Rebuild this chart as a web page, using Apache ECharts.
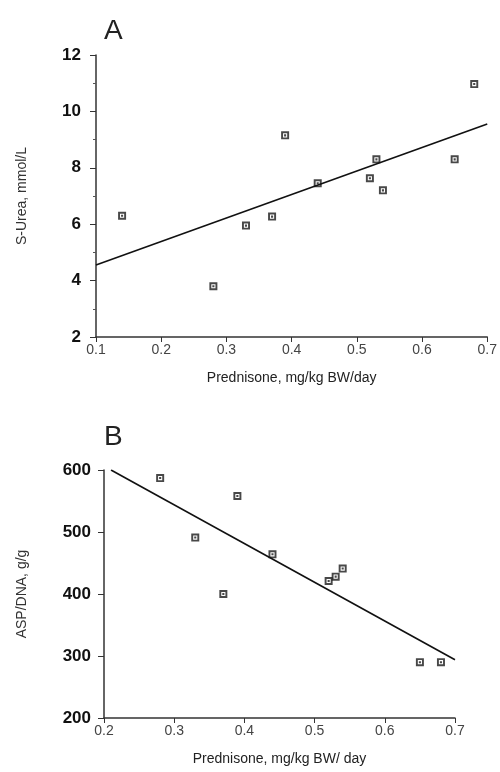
<!DOCTYPE html>
<html>
<head>
<meta charset="utf-8">
<script src="https://cdn.jsdelivr.net/npm/echarts@6/dist/echarts.min.js"></script>
<style>
html,body{margin:0;padding:0;background:#fff;}
#chart{width:500px;height:772px;}
</style>
</head>
<body>
<div id="chart"></div>
<script>
// Panel A: S-Urea vs Prednisone
const prednisoneA = [0.14, 0.28, 0.33, 0.37, 0.39, 0.44, 0.52, 0.53, 0.54, 0.65, 0.68];
const sUrea = [6.3, 3.8, 5.95, 6.27, 9.15, 7.45, 7.63, 8.3, 7.2, 8.3, 10.97];
const fitA = [[0.1, 4.55], [0.7, 9.55]];
// Panel B: ASP/DNA vs Prednisone
const prednisoneB = [0.28, 0.33, 0.37, 0.39, 0.44, 0.52, 0.53, 0.54, 0.65, 0.68];
const aspDna = [587, 491, 400, 558, 464, 421, 428, 441, 290, 290];
const fitB = [[0.21, 600], [0.7, 294]];

const titles = ['A', 'B'];
const xName = ['Prednisone, mg/kg BW/day', 'Prednisone, mg/kg BW/ day'];
const yName = ['S-Urea, mmol/L', 'ASP/DNA, g/g'];

const font = '"Liberation Sans", Arial, Helvetica, sans-serif';
const sym = 'path://M0,0H10V10H0Z M2.4,2.4V7.6H7.6V2.4Z M3.7,3.7H6.3V6.3H3.7Z';

function xAxis(idx, min) {
  return {
    type: 'value', gridIndex: idx, min: min, max: 0.7, interval: 0.1,
    name: xName[idx], nameLocation: 'middle', nameGap: 34,
    nameTextStyle: {fontFamily: font, fontSize: 14, color: '#222'},
    axisLine: {show: true, onZero: false, lineStyle: {color: '#333', width: 1.5}},
    axisTick: {show: true, length: 5, lineStyle: {color: '#333'}},
    axisLabel: {fontFamily: font, fontSize: 14, color: '#444', margin: 6,
      formatter: v => v.toFixed(1)},
    splitLine: {show: false}
  };
}
function yAxis(idx, min, max, interval, minor, gap, margin) {
  return {
    type: 'value', gridIndex: idx, min: min, max: max, interval: interval,
    name: yName[idx], nameLocation: 'middle', nameGap: gap, nameRotate: 90,
    nameTextStyle: {fontFamily: font, fontSize: 14, color: '#333'},
    axisLine: {show: true, onZero: false, lineStyle: {color: '#333', width: 1.5}},
    axisTick: {show: true, length: 6, lineStyle: {color: '#333'}},
    minorTick: {show: minor, splitNumber: 2, length: 3, lineStyle: {color: '#555'}},
    axisLabel: {fontFamily: font, fontSize: 17, fontWeight: 'bold', color: '#111', margin: margin},
    splitLine: {show: false}
  };
}

const chart = echarts.init(document.getElementById('chart'), null, {renderer: 'canvas'});
chart.setOption({
  backgroundColor: '#fff',
  animation: false,
  title: [
    {text: titles[0], left: 99, top: 12, textStyle: {fontFamily: font, fontSize: 28, fontWeight: 'normal', color: '#222'}},
    {text: titles[1], left: 99, top: 418, textStyle: {fontFamily: font, fontSize: 28, fontWeight: 'normal', color: '#222'}}
  ],
  grid: [
    {left: 96, top: 55, width: 392, height: 282},
    {left: 104, top: 470, width: 351, height: 248}
  ],
  xAxis: [xAxis(0, 0.1), xAxis(1, 0.2)],
  yAxis: [yAxis(0, 2, 12, 2, true, 67, 15), yAxis(1, 200, 600, 100, false, 75, 13)],
  series: [
    {type: 'scatter', xAxisIndex: 0, yAxisIndex: 0, symbol: sym, symbolSize: 8,
      itemStyle: {color: '#1a1a1a'}, data: prednisoneA.map((x, i) => [x, sUrea[i]])},
    {type: 'line', xAxisIndex: 0, yAxisIndex: 0, showSymbol: false, symbol: 'none',
      lineStyle: {color: '#111', width: 1.6}, data: fitA},
    {type: 'scatter', xAxisIndex: 1, yAxisIndex: 1, symbol: sym, symbolSize: 8,
      itemStyle: {color: '#1a1a1a'}, data: prednisoneB.map((x, i) => [x, aspDna[i]])},
    {type: 'line', xAxisIndex: 1, yAxisIndex: 1, showSymbol: false, symbol: 'none',
      lineStyle: {color: '#111', width: 1.6}, data: fitB}
  ]
});
</script>
</body>
</html>
